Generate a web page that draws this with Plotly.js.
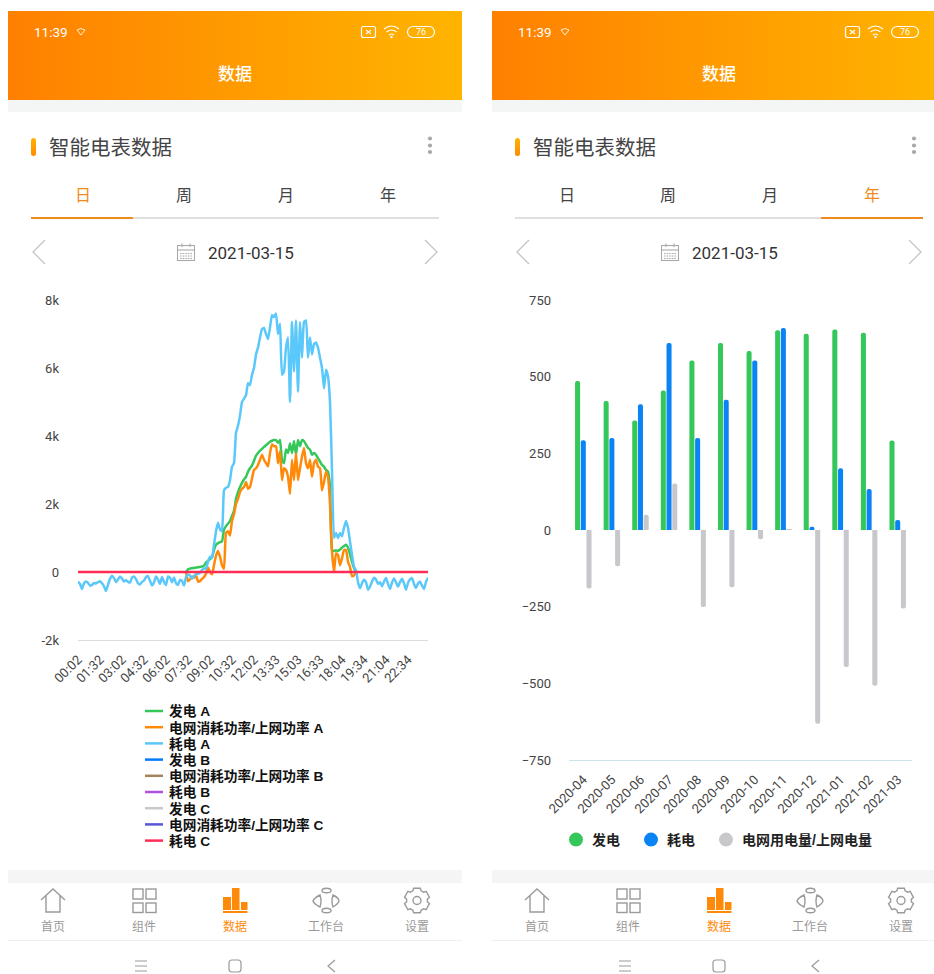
<!DOCTYPE html>
<html><head><meta charset="utf-8">
<script src="https://cdn.plot.ly/plotly-3.0.1.min.js"></script>
<style>
html,body{margin:0;padding:0;background:#fff;width:934px;height:974px;overflow:hidden}
#bg{position:absolute;left:0;top:0}
#chart{position:absolute;left:0;top:0;width:934px;height:974px}
</style></head><body>
<svg id="bg" width="934" height="974" viewBox="0 0 934 974" xmlns="http://www.w3.org/2000/svg">
<defs>
<linearGradient id="hdr" x1="0" x2="1" y1="0" y2="0"><stop offset="0" stop-color="#ff8000"/><stop offset="0.6" stop-color="#ffa000"/><stop offset="1" stop-color="#ffb400"/></linearGradient>
<linearGradient id="pill" x1="0" x2="0" y1="0" y2="1"><stop offset="0" stop-color="#ffb400"/><stop offset="1" stop-color="#ff8a00"/></linearGradient>
<g id="panel">
<rect x="8" y="11" width="454" height="89" fill="url(#hdr)"/>
<rect x="8" y="100" width="454" height="12" fill="#f4f5f5"/>
<rect x="8" y="870" width="454" height="13" fill="#f5f5f5"/>
<line x1="8" x2="462" y1="940.5" y2="940.5" stroke="#efefef"/>
<rect x="31" y="138" width="5" height="18" rx="2.5" fill="url(#pill)"/>
<circle cx="430" cy="138.5" r="2.1" fill="#a8a8a8"/><circle cx="430" cy="145.5" r="2.1" fill="#a8a8a8"/><circle cx="430" cy="152" r="2.1" fill="#a8a8a8"/>
<line x1="31" x2="439" y1="218" y2="218" stroke="#d4d4d4" stroke-width="1.6"/>
<path d="M45 240L33 252L45 264M425 240L437 252L425 264" fill="none" stroke="#c4c4c4" stroke-width="1.3"/>
<g fill="none" stroke="#aaa" stroke-width="1.1"><rect x="177.5" y="245.5" width="17" height="15"/><line x1="177.5" x2="194.5" y1="250" y2="250"/><line x1="182" x2="182" y1="243.5" y2="247"/><line x1="190" x2="190" y1="243.5" y2="247"/><path d="M180 253.5h12M180 256h12M180 258.5h12" stroke-dasharray="1.6 1"/></g>
<g fill="none" stroke="#fff" stroke-width="1.2"><rect x="361.5" y="26.5" width="14" height="11" rx="2"/><path d="M366 30l5 4M371 30l-5 4"/><path d="M384 29q7.5-6 15 0M386.5 32q5-4 10 0M389 35q2.5-2 5 0"/><rect x="407.5" y="26.5" width="27" height="11" rx="5.5"/></g>
<circle cx="391.5" cy="37" r="1.2" fill="#fff"/>
<g fill="none" stroke="#fff" stroke-width="1" opacity="0.85"><path d="M77 30q4-3 8 0l-4 5z"/></g>
<g fill="none" stroke="#9a9a9a" stroke-width="1.4">
<path d="M41 900L53 889L65 900M46 896V912H60V896"/>
<rect x="133" y="889" width="10" height="10"/><rect x="146" y="889" width="10" height="10"/><rect x="133" y="903" width="10" height="9.5"/><rect x="146" y="903" width="10" height="9.5"/>
<ellipse cx="326.5" cy="890.5" rx="4.5" ry="2.3"/><ellipse cx="326.5" cy="910.5" rx="4.5" ry="2.3"/>
<path d="M320 895q-6 3-7 6q1 3 7 6q2-6 0-12zM333 895q6 3 6 6q-1 3-6 6q-2-6 0-12z"/>
<path vector-effect="non-scaling-stroke" transform="translate(417,900.5) scale(0.83,0.88) translate(-417,-903)" d="M413 889h8l1 3l3 1.5l3-1l4 7l-2.5 2v3l2.5 2l-4 7l-3-1l-3 1.5l-1 3h-8l-1-3l-3-1.5l-3 1l-4-7l2.5-2v-3l-2.5-2l4-7l3 1l3-1.5z"/>
<circle cx="417" cy="900.5" r="4"/>
</g>
<g fill="#ff8a0a"><rect x="223" y="897" width="8" height="13"/><rect x="232" y="888" width="7.5" height="22"/><rect x="241" y="902" width="6.5" height="8"/><rect x="223" y="911" width="24.5" height="2"/></g>
<g fill="none" stroke="#9a9a9a" stroke-width="1.2"><path d="M135 961h12M135 966h12M135 971h12"/><rect x="229" y="960" width="12" height="12" rx="3"/><path d="M335 960l-7 6l7 6"/></g>
</g>
</defs>
<use href="#panel"/>
<line x1="31" x2="133" y1="218" y2="218" stroke="#f08a1d" stroke-width="2"/>
<use href="#panel" x="484"/>
<line x1="821" x2="923" y1="218" y2="218" stroke="#f08a1d" stroke-width="2"/>
</svg>
<div id="chart"></div>
<script>
// ---- Day chart (meter power, W) ----
const dayTickLabels = ["00:02","01:32","03:02","04:32","06:02","07:32","09:02","10:32","12:02","13:33","15:03","16:33","18:04","19:34","21:04","22:34"];
const dayTickIndex = [0,11,22,33,44,55,66,77,88,99,110,121,132,143,154,165];
const loadA = [
-280,-350,-500,-330,-280,-320,-400,-380,-320,-340,-300,-270,-330,-420,-560,-380,-200,-110,-180,-300,
-220,-130,-190,-280,-240,-290,-310,-170,-130,-210,-330,-370,-290,-250,-150,-120,-260,-400,-310,-130,-220,-350,-150,-290,-380,-130,-170,-300,-160,-330,-380,-230,-260,-400,
-150,-80,-100,-200,-120,-60,-50,-20,60,100,100,300,450,420,800,1200,1450,1250,1200,2400,2480,2500,2700,3100,3200,4100,4300,4600,5000,5100,5200,5550,5500,5800,6000,6400,6600,6900,7150,7180,7000,6850,7200,7550,7500,7600,7000,7300,5800,5900,6600,6900,5000,7350,5900,7400,5300,7350,6300,7350,7400,6300,6900,6400,6700,6750,6600,6300,6000,5400,5950,5750,5000,3000,1000,1150,1000,1150,1050,1300,1500,1300,900,500,150,50,
-300,-480,-330,-230,-300,-520,-430,-280,-170,-220,-350,-300,-420,-280,-180,-350,-500,-310,-190,-300,-430,-300,-200,-330,-520,-320,-220,-180,-350,-470,-340,-280,-400,-500,-290,-160];
const genA = [0,80,100,110,120,130,140,150,160,180,280,330,380,430,650,800,850,880,900,1250,1350,1420,1500,1650,1800,2150,2350,2500,2620,2720,2800,2950,3050,3130,3270,3420,3500,3570,3620,3680,3730,3780,3830,3860,3880,3880,3800,3880,3300,3200,3600,3500,3780,3500,3850,3450,3880,3700,3880,3850,3750,3650,3600,3450,3500,3450,3350,3250,3150,3100,3000,2950,2500,650,620,640,620,660,720,760,800,720,520,300,120,0];
const gridA = [0,-270,-220,-130,-170,-100,-280,-270,-200,-150,-50,130,0,-70,200,480,620,450,200,100,1150,1200,1070,1500,1700,2000,2150,2350,2450,2500,2650,2450,2500,2750,3000,3050,3150,3300,3450,3300,3200,3100,3500,3750,3700,3700,3200,3550,2700,3050,3000,2800,2300,3300,2700,3500,2700,3050,3400,3650,3200,3050,3300,2800,3200,3300,3100,3050,2400,2650,2950,2800,2000,600,0,550,500,200,400,650,650,300,150,-120,-100,0];
const activeStart = 54;
const flatIndex = [0,175];
const flatValues = [0,0];
const dayColors = ["#34c759","#ff8a0a","#5ac8fa","#007aff","#a2845e","#af52de","#c7c7cc","#5856d6","#ff2d55"];
const dayNames = ["发电 A","电网消耗功率/上网功率 A","耗电 A","发电 B","电网消耗功率/上网功率 B","耗电 B","发电 C","电网消耗功率/上网功率 C","耗电 C"];

// ---- Year chart (kWh) ----
const months = ["2020-04","2020-05","2020-06","2020-07","2020-08","2020-09","2020-10","2020-11","2020-12","2021-01","2021-02","2021-03"];
const yearGen = [486,421,357,455,553,610,584,651,640,654,643,292];
const yearLoad = [293,300,410,610,300,425,553,659,11,201,134,33];
const yearGrid = [-191,-118,50,152,-251,-187,-30,3,-632,-447,-508,-256];
const yearNames = ["发电","耗电","电网用电量/上网电量"];
const yearColors = ["#34c759","#0a84f5","#c7c7cc"];

const W=934,H=974;
const fx=p=>p/W, fy=p=>1-p/H;
const uiFont='"Noto Sans CJK SC","Noto Sans",sans-serif';
const legendFont='"Liberation Sans","Noto Sans CJK SC",sans-serif';
const numFont='Roboto,"Noto Sans CJK SC",sans-serif';
const dayIndex = loadA.map((_,i)=>i);
const activeX = dayIndex.slice(activeStart, activeStart+genA.length);

const dayX=[activeX,activeX,dayIndex,flatIndex,flatIndex,flatIndex,flatIndex,flatIndex,flatIndex];
const dayY=[genA,gridA,loadA,flatValues,flatValues,flatValues,flatValues,flatValues,flatValues];
const traces = dayNames.map((n,i)=>({type:'scatter',mode:'lines',name:n,x:dayX[i],y:dayY[i],xaxis:'x',yaxis:'y',
  line:{color:dayColors[i],width:(i>2&&i<8)?1.5:2.5,shape:'spline',smoothing:0.4},legend:'legend',hoverinfo:'skip'}));
const yearY=[yearGen,yearLoad,yearGrid];
yearNames.forEach((n,i)=>traces.push({type:'bar',name:n,x:months,y:yearY[i],xaxis:'x2',yaxis:'y2',showlegend:false,
  marker:{color:yearColors[i],cornerradius:2.5,line:{width:0}},hoverinfo:'skip'}));
yearNames.forEach((n,i)=>traces.push({type:'scatter',mode:'markers',name:n,x:[null],y:[null],xaxis:'x2',yaxis:'y2',
  legend:'legend2',marker:{color:yearColors[i],size:14,symbol:'circle'},hoverinfo:'skip'}));

const anns=[];
function ann(t,px,py,size,color,o){anns.push(Object.assign({text:t,x:fx(px),y:fy(py),xref:'paper',yref:'paper',showarrow:false,xanchor:'center',yanchor:'middle',
  font:{family:uiFont,size:size,color:color}},o||{}));}
[0,484].forEach((dx,k)=>{
  ann('11:39',51+dx,32,13,'#fff',{font:{family:numFont,size:13.5,color:'#fff'}});
  ann('76',421+dx,32,9,'#fff',{font:{family:numFont,size:9,color:'#fff'}});
  ann('数据',235+dx,73,17,'#fff',{font:{family:uiFont,size:17,color:'#fff',weight:500}});
  ann('智能电表数据',110+dx,146,20.5,'#444');
  ['日','周','月','年'].forEach((t,i)=>{const on=(k===0&&i===0)||(k===1&&i===3);
    ann(t,[83,184,286,388][i]+dx,194,16,on?'#f08a1d':'#444');});
  ann('2021-03-15',251+dx,253,17,'#333',{font:{family:numFont,size:17,color:'#333'}});
  ['首页','组件','数据','工作台','设置'].forEach((t,i)=>{
    ann(t,[53,144,235,326,417][i]+dx,925,12,i===2?'#ff8a0a':'#999');});
});

const tick={family:numFont,size:13,color:'#444'};
const layout={width:W,height:H,margin:{l:0,r:0,t:0,b:0},paper_bgcolor:'rgba(0,0,0,0)',plot_bgcolor:'rgba(0,0,0,0)',
  barmode:'group',bargap:0.4,bargroupgap:0.12,showlegend:true,
  xaxis:{domain:[fx(78),fx(428)],range:[0,175],tickmode:'array',tickvals:dayTickIndex,ticktext:dayTickLabels,tickangle:-45,
    showgrid:false,zeroline:false,showline:true,linecolor:'#dcdcdc',linewidth:1,ticks:'',tickfont:tick,ticklabelstandoff:6,anchor:'y'},
  yaxis:{domain:[fy(640),fy(300)],range:[-2000,8000],tickmode:'array',tickvals:[-2000,0,2000,4000,6000,8000],ticktext:['-2k','0','2k','4k','6k','8k'],
    showgrid:false,zeroline:false,showline:false,ticks:'',tickfont:tick,ticklabelstandoff:18,anchor:'x'},
  xaxis2:{domain:[fx(569),fx(912)],type:'category',tickangle:-45,showgrid:false,zeroline:false,showline:true,linecolor:'#cfe3ec',linewidth:1,ticks:'',tickfont:tick,ticklabelstandoff:6,anchor:'y2',categoryorder:'array',categoryarray:months},
  yaxis2:{domain:[fy(760),fy(300)],range:[-750,750],tickmode:'array',tickvals:[-750,-500,-250,0,250,500,750],showgrid:false,zeroline:false,showline:false,ticks:'',tickfont:tick,ticklabelstandoff:17,anchor:'x2'},
  legend:{x:fx(140),y:fy(696),xanchor:'left',yanchor:'top',orientation:'v',traceorder:'normal',bgcolor:'rgba(0,0,0,0)',
    font:{family:legendFont,size:13.7,color:'#111',weight:'bold'},itemwidth:30,itemclick:false,itemdoubleclick:false},
  legend2:{x:fx(556),y:fy(840),xanchor:'left',yanchor:'middle',orientation:'h',traceorder:'normal',bgcolor:'rgba(0,0,0,0)',
    font:{family:legendFont,size:14,color:'#222',weight:'bold'},itemwidth:30,itemclick:false,itemdoubleclick:false},
  annotations:anns};

// Legend spacing in the source is tighter than Plotly's minimum row height: pack the rendered rows.
function packLegends(){
  const translateOf=el=>{const m=/translate\(\s*([-\d.]+)[ ,]+([-\d.]+)/.exec(el.getAttribute('transform')||'');return m?[+m[1],+m[2]]:[0,0];};
  const first=document.querySelector('.legend');
  const top=translateOf(first)[1];
  first.querySelectorAll('.traces').forEach((t,i)=>{
    t.setAttribute('transform','translate(0,'+(711-top+16.2*i)+')');
    const line=t.querySelector('.legendlines path');
    if(line){line.setAttribute('d','M5,0h18');line.style.strokeWidth='2.5px';}
    const txt=t.querySelector('text.legendtext'); if(txt) txt.setAttribute('x',29);
  });
  // second legend: circle markers 75 px apart, labels 16 px right of the circle centres
  const legends=document.querySelectorAll('g.legend');
  const second=document.querySelector('g.legend2')||legends[legends.length-1];
  const gaps=[0,75,150];
  second.querySelectorAll('g.traces').forEach((t,i)=>{
    const y=translateOf(t)[1];
    t.setAttribute('transform','translate('+(gaps[i]-4)+','+y+')');
    const pts=t.querySelector('.legendpoints');
    if(pts) pts.setAttribute('transform','translate(4,0)');
  });
}
Plotly.newPlot('chart',traces,layout,{displayModeBar:false}).then(packLegends);
</script>
</body></html>
